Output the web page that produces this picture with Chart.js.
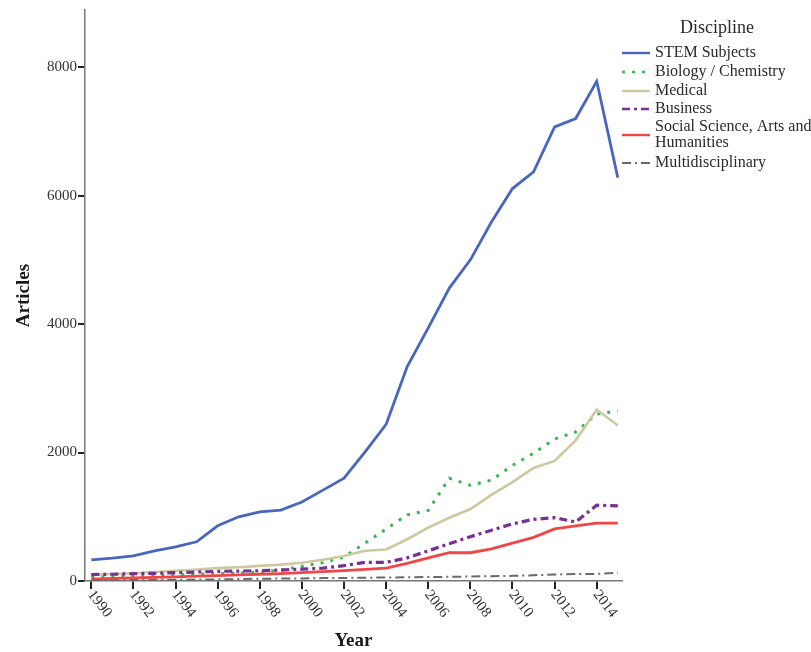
<!DOCTYPE html>
<html>
<head>
<meta charset="utf-8">
<script src="https://cdn.jsdelivr.net/npm/chart.js@4"></script>
<style>
  html, body { margin: 0; padding: 0; background: #fff; }
  #wrap { width: 811px; height: 652px; }
</style>
</head>
<body>
<div id="wrap"><canvas id="c" width="811" height="652"></canvas></div>
<script>
const years = [1990,1991,1992,1993,1994,1995,1996,1997,1998,1999,2000,2001,2002,2003,2004,2005,2006,2007,2008,2009,2010,2011,2012,2013,2014,2015];
const stem = [330,355,390,470,530,610,860,1000,1075,1105,1230,1415,1600,2010,2440,3340,3940,4560,5000,5590,6110,6370,7070,7200,7780,6280];
const bioChem = [70,75,80,85,95,105,115,125,140,170,230,285,375,590,810,1030,1100,1600,1490,1570,1800,1990,2210,2320,2600,2650];
const medical = [100,110,120,140,160,180,200,215,235,255,285,330,390,470,490,650,830,985,1120,1340,1540,1760,1870,2190,2670,2420];
const business = [100,105,115,120,130,140,150,155,160,170,185,200,240,290,290,360,470,580,690,790,890,960,985,920,1180,1170];
const socialSci = [30,40,50,55,65,75,85,95,105,115,130,145,160,180,200,275,360,440,440,500,590,680,810,860,900,900];
const multi = [10,12,15,18,20,22,25,30,35,38,40,45,48,50,55,58,62,65,70,75,80,90,100,110,110,130];

const xTickValues = [1990,1992,1994,1996,1998,2000,2002,2004,2006,2008,2010,2012,2014];
const yTickValues = [0,2000,4000,6000,8000];
const seriesNames = ['STEM Subjects','Biology / Chemistry','Medical','Business',['Social Science, Arts and','Humanities'],'Multidisciplinary'];
const legendTitle = 'Discipline';
const xTitle = 'Year';
const yTitle = 'Articles';

const SERIF = '"Liberation Serif", "DejaVu Serif", serif';

function pts(arr) { return years.map((y, i) => ({ x: y, y: arr[i] })); }

const styles = [
  { color: 'rgb(72,102,190)', width: 2.8, dash: [] },
  { color: 'rgb(60,180,80)', width: 3, dash: [3, 7] },
  { color: 'rgb(205,200,160)', width: 2.6, dash: [] },
  { color: 'rgb(120,48,145)', width: 3.2, dash: [8, 4, 3, 4] },
  { color: 'rgb(240,70,70)', width: 2.8, dash: [] },
  { color: 'rgb(105,105,110)', width: 2, dash: [9, 4, 2, 4] }
];
const seriesData = [stem, bioChem, medical, business, socialSci, multi];

const datasets = seriesData.map((d, i) => ({
  label: Array.isArray(seriesNames[i]) ? seriesNames[i].join(' ') : seriesNames[i],
  data: pts(d),
  borderColor: styles[i].color,
  borderWidth: styles[i].width,
  borderDash: styles[i].dash,
  pointRadius: 0,
  tension: 0,
  fill: false,
  order: 6 - i
}));

const customPlugin = {
  id: 'customDecor',
  afterDraw(chart) {
    const ctx = chart.ctx;
    const xs = chart.scales.x;
    const area = chart.chartArea;
    ctx.save();
    // rotated x tick labels
    ctx.font = '15px ' + SERIF;
    ctx.fillStyle = '#333';
    ctx.textAlign = 'left';
    ctx.textBaseline = 'middle';
    xTickValues.forEach(v => {
      const px = xs.getPixelForValue(v);
      ctx.save();
      ctx.translate(px - 1, area.bottom + 11);
      ctx.rotate(52 * Math.PI / 180);
      ctx.fillText(String(v), 0, 0);
      ctx.restore();
    });
    // legend
    const lx0 = 622, lx1 = 650, tx = 655;
    ctx.font = '18px ' + SERIF;
    ctx.fillStyle = '#2a2a2a';
    ctx.textAlign = 'center';
    ctx.fillText(legendTitle, 717, 28);
    ctx.font = '16px ' + SERIF;
    ctx.textAlign = 'left';
    const rowY = [53, 72, 91, 109, 135, 163];
    seriesNames.forEach((name, i) => {
      const y = rowY[i];
      ctx.save();
      ctx.strokeStyle = styles[i].color;
      ctx.lineWidth = Math.min(styles[i].width, 2.4);
      ctx.setLineDash(styles[i].dash);
      ctx.beginPath();
      ctx.moveTo(lx0, y);
      ctx.lineTo(lx1, y);
      ctx.stroke();
      ctx.restore();
      ctx.fillStyle = '#2a2a2a';
      if (Array.isArray(name)) {
        ctx.fillText(name[0], tx, 127);
        ctx.fillText(name[1], tx, 143);
      } else {
        ctx.fillText(name, tx, y);
      }
    });
    ctx.restore();
  }
};

new Chart(document.getElementById('c'), {
  type: 'line',
  data: { datasets },
  options: {
    responsive: false,
    animation: false,
    devicePixelRatio: 1,
    layout: { padding: { left: 0, top: 10, right: 189, bottom: 0 } },
    plugins: { legend: { display: false }, tooltip: { enabled: false } },
    scales: {
      x: {
        type: 'linear',
        min: 1989.7,
        max: 2015.2,
        afterBuildTicks: s => { s.ticks = xTickValues.map(v => ({ value: v })); },
        afterFit: s => { s.height = 71; },
        ticks: { display: false },
        grid: { display: true, drawOnChartArea: false, drawTicks: true, tickLength: 8, color: '#222', lineWidth: 2 },
        border: { display: true, color: '#777', width: 1.5 },
        title: { display: true, text: xTitle, color: '#1a1a1a', font: { family: SERIF, size: 19, weight: 'bold' }, padding: { top: 0, bottom: 0 } }
      },
      y: {
        type: 'linear',
        min: 0,
        max: 8890,
        afterBuildTicks: s => { s.ticks = yTickValues.map(v => ({ value: v })); },
        afterFit: s => { s.width = 85; },
        ticks: { color: '#333', font: { family: SERIF, size: 15 }, padding: 1, callback: v => String(v) },
        grid: { display: true, drawOnChartArea: false, drawTicks: true, tickLength: 7, color: '#222', lineWidth: 2 },
        border: { display: true, color: '#777', width: 1.5 },
        title: { display: true, text: yTitle, color: '#1a1a1a', font: { family: SERIF, size: 19, weight: 'bold' }, padding: { top: 13, bottom: 0 } }
      }
    }
  },
  plugins: [customPlugin]
});
</script>
</body>
</html>
